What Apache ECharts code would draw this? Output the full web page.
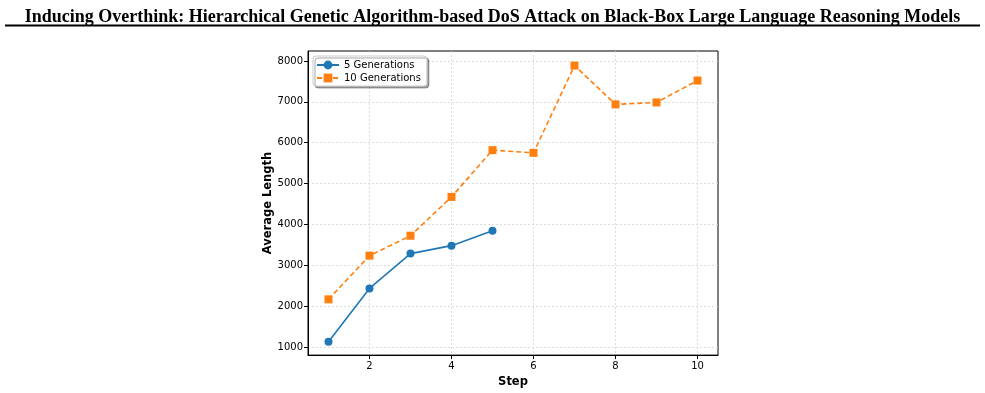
<!DOCTYPE html>
<html>
<head>
<meta charset="utf-8">
<script src="https://cdn.jsdelivr.net/npm/echarts@6/dist/echarts.min.js"></script>
<style>
  html, body { margin: 0; padding: 0; background: #fff; }
  #main { width: 985px; height: 393px; }
</style>
</head>
<body>
<div id="main"></div>
<script>
const steps = [1, 2, 3, 4, 5, 6, 7, 8, 9, 10];
const gen5 = [1130, 2435, 3287, 3482, 3847];
const gen10 = [2168, 3238, 3725, 4674, 5818, 5752, 7886, 6937, 6985, 7521];
const xTicks = [2, 4, 6, 8, 10];
const yTicks = [1000, 2000, 3000, 4000, 5000, 6000, 7000, 8000];

const chart = echarts.init(document.getElementById('main'));

const tickFont = { fontFamily: 'DejaVu Sans', fontSize: 10, color: '#000' };
const gridLine = { show: true, lineStyle: { color: '#d4d4d4', type: [2, 2], width: 0.8 } };
const nameFont = { fontFamily: 'DejaVu Sans', fontWeight: 'bold', fontSize: 11.5, color: '#000' };

const option = {
    animation: false,
    title: {
        text: 'Inducing Overthink: Hierarchical Genetic Algorithm-based DoS Attack on Black-Box Large Language Reasoning Models',
        left: 'center',
        top: 3,
        textStyle: { fontFamily: 'Liberation Serif', fontWeight: 'bold', fontSize: 18, color: '#000' }
    },
    graphic: [{
        type: 'line',
        shape: { x1: 5, y1: 25.5, x2: 980, y2: 25.5 },
        style: { stroke: '#000', lineWidth: 2 }
    }],
    grid: {
        left: 308, right: 267, top: 51, bottom: 36,
        show: true, borderColor: '#000', borderWidth: 1
    },
    legend: {
        left: 313, top: 56, orient: 'vertical',
        itemWidth: 22, itemHeight: 11, itemGap: 3,
        padding: [4, 6, 3, 3],
        backgroundColor: '#fff',
        borderColor: '#ccc', borderWidth: 1, borderRadius: 3,
        shadowColor: 'rgba(0,0,0,0.35)', shadowOffsetX: 2, shadowOffsetY: 2, shadowBlur: 0,
        textStyle: { fontFamily: 'DejaVu Sans', fontSize: 10, color: '#000' },
        data: ['5 Generations', '10 Generations']
    },
    xAxis: {
        type: 'value', min: 0.5, max: 10.5,
        name: 'Step', nameLocation: 'middle', nameGap: 19,
        nameTextStyle: nameFont,
        axisLine: { show: true, lineStyle: { color: '#000' } },
        axisTick: { show: true, inside: false, length: 4, customValues: xTicks, lineStyle: { color: '#000' } },
        axisLabel: Object.assign({ customValues: xTicks, margin: 6 }, tickFont),
        splitLine: gridLine
    },
    yAxis: {
        type: 'value', min: 805, max: 8243,
        name: 'Average Length', nameLocation: 'middle', nameGap: 33,
        nameTextStyle: nameFont,
        axisLine: { show: true, lineStyle: { color: '#000' } },
        axisTick: { show: true, inside: false, length: 4, customValues: yTicks, lineStyle: { color: '#000' } },
        axisLabel: Object.assign({ customValues: yTicks, margin: 5, formatter: v => String(v) }, tickFont),
        splitLine: gridLine
    },
    series: [{
        name: '5 Generations',
        type: 'line',
        data: gen5.map((v, i) => [steps[i], v]),
        symbol: 'circle', symbolSize: 8,
        itemStyle: { color: '#1f77b4' },
        lineStyle: { color: '#1f77b4', width: 1.6 }
    }, {
        name: '10 Generations',
        type: 'line',
        data: gen10.map((v, i) => [steps[i], v]),
        symbol: 'rect', symbolSize: 8,
        itemStyle: { color: '#ff7f0e' },
        lineStyle: { color: '#ff7f0e', width: 1.6, type: [5, 3] }
    }]
};

chart.setOption(option);
</script>
</body>
</html>
